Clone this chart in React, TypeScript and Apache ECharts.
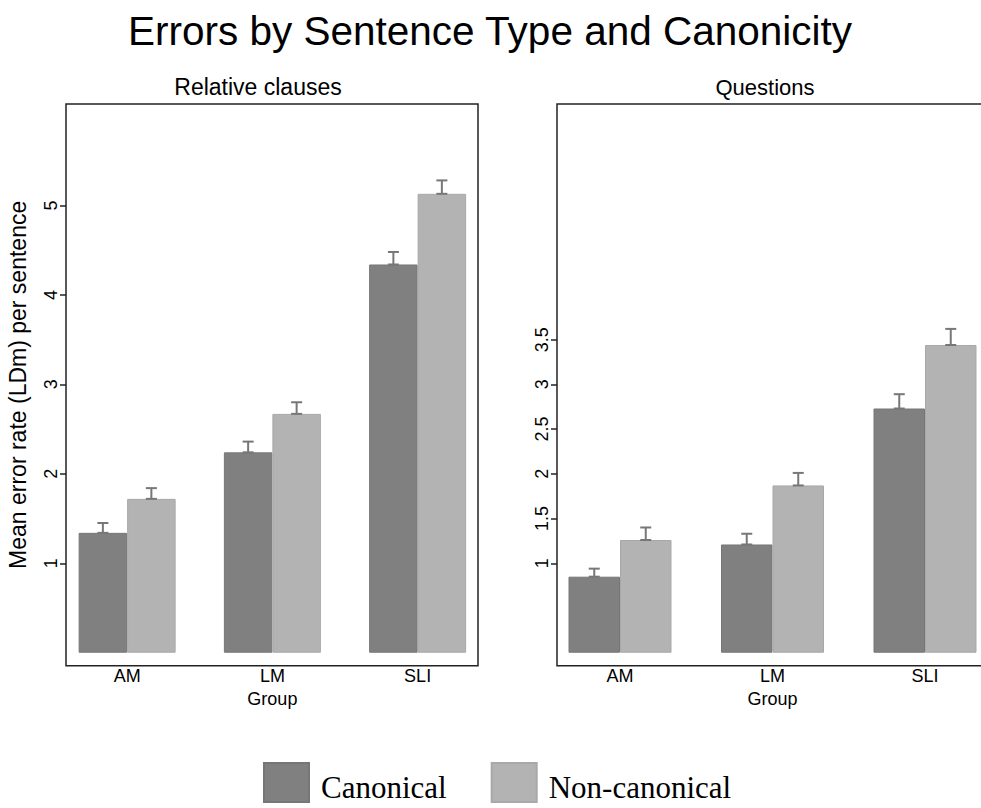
import React, { useEffect, useRef } from "react";
import * as echarts from "echarts";

const categories = ["AM", "LM", "SLI"];
const seriesNames = ["Canonical", "Non-canonical"];

// Relative clauses panel
const relCanonical = [1.34, 2.24, 4.34];
const relCanonicalUpper = [1.45, 2.36, 4.48];
const relNonCanonical = [1.72, 2.67, 5.13];
const relNonCanonicalUpper = [1.84, 2.8, 5.28];

// Questions panel
const qCanonical = [0.85, 1.21, 2.73];
const qCanonicalUpper = [0.94, 1.33, 2.89];
const qNonCanonical = [1.26, 1.87, 3.44];
const qNonCanonicalUpper = [1.4, 2.01, 3.62];

const relTicks = [1, 2, 3, 4, 5];
const qTicks = [1, 1.5, 2, 2.5, 3, 3.5];

const COLOR_CAN = "#808080";
const COLOR_NON = "#b3b3b3";
const FONT = "Liberation Sans, Arial, Helvetica, sans-serif";
const Y_MIN = -0.145;
const Y_MAX = 6.134;

function errorSeries(xIdx: number, yIdx: number, bw: number, can: number[], canU: number[], non: number[], nonU: number[]) {
  const data: number[][] = [];
  can.forEach((v, i) => data.push([i, v, canU[i], -1]));
  non.forEach((v, i) => data.push([i, v, nonU[i], 1]));
  return {
    type: "custom",
    xAxisIndex: xIdx,
    yAxisIndex: yIdx,
    silent: true,
    z: 5,
    encode: { x: 0, y: [1, 2] },
    data,
    renderItem: (params: any, api: any) => {
      const cat = api.value(0);
      const lo = api.value(1);
      const hi = api.value(2);
      const side = api.value(3);
      const p1 = api.coord([cat, lo]);
      const p2 = api.coord([cat, hi]);
      const x = p1[0] + (side * bw) / 2;
      const style = { stroke: "#777777", lineWidth: 2 };
      return {
        type: "group",
        children: [
          { type: "line", shape: { x1: x, y1: p1[1], x2: x, y2: p2[1] }, style },
          { type: "line", shape: { x1: x - 5.5, y1: p2[1], x2: x + 5.5, y2: p2[1] }, style },
          { type: "line", shape: { x1: x - 5.5, y1: p1[1], x2: x + 5.5, y2: p1[1] }, style },
        ],
      };
    },
  };
}

function barSeries(name: string, xIdx: number, yIdx: number, bw: number, data: number[], color: string, border: string) {
  return {
    type: "bar",
    name,
    xAxisIndex: xIdx,
    yAxisIndex: yIdx,
    barWidth: bw,
    barGap: "0%",
    data,
    itemStyle: { color, borderColor: border, borderWidth: 1 },
  };
}

export default function App() {
  const ref = useRef<HTMLDivElement>(null);
  useEffect(() => {
    document.body.style.margin = "0";
    document.body.style.overflow = "hidden";
    const chart = echarts.init(ref.current!, undefined, { renderer: "svg" });
    const top = 104;
    const bottom = 808 - 665.7;
    const LBW = 48.5;
    const RBW = 51.5;
    const frameY = (idx: number, ticks: number[], withName: boolean) => ({
      type: "value",
      gridIndex: idx,
      min: Y_MIN,
      max: Y_MAX,
      axisLine: { show: false },
      splitLine: { show: false },
      axisTick: { show: true, length: 6, customValues: ticks, lineStyle: { color: "#222", width: 1.5 } },
      axisLabel: { customValues: ticks, rotate: 90, fontSize: 18, color: "#000", margin: 6, fontFamily: FONT },
      name: withName ? "Mean error rate (LDm) per sentence" : "",
      nameLocation: "middle",
      nameGap: 37,
      nameTextStyle: { fontSize: 23, color: "#000", fontFamily: FONT },
    });
    const hiddenY = (idx: number) => ({ type: "value", gridIndex: idx, min: Y_MIN, max: Y_MAX, show: false });
    const barX = (idx: number) => ({
      type: "category",
      gridIndex: idx,
      data: categories,
      axisLine: { show: false },
      axisTick: { show: false },
      axisLabel: { fontSize: 18, color: "#000", margin: 1, fontFamily: FONT },
      name: "Group",
      nameLocation: "middle",
      nameGap: 15,
      nameTextStyle: { fontSize: 18, color: "#000", fontFamily: FONT },
    });
    chart.setOption({
      animation: false,
      textStyle: { fontFamily: FONT },
      title: {
        text: "Errors by Sentence Type and Canonicity",
        left: 485,
        textAlign: "center",
        top: 5,
        textStyle: { fontSize: 40.5, fontWeight: "normal", color: "#000", fontFamily: FONT },
      },
      legend: {
        data: seriesNames,
        left: 263,
        top: 762,
        padding: 0,
        icon: "rect",
        itemWidth: 45,
        itemHeight: 39,
        itemGap: 44,
        formatter: "{t|{name}}",
        textStyle: {
          fontFamily: "Liberation Serif, Times New Roman, serif",
          fontSize: 31,
          color: "#000",
          padding: [0, 0, 0, 7],
          rich: { t: { fontFamily: "Liberation Serif, Times New Roman, serif", fontSize: 31, color: "#000", padding: [9, 0, 0, 0] } },
        },
      },
      graphic: [
        { type: "text", x: 258, y: 87, style: { text: "Relative clauses", fill: "#000", font: "23px " + FONT, textAlign: "center", textVerticalAlign: "middle" } },
        { type: "text", x: 765, y: 87, style: { text: "Questions", fill: "#000", font: "22px " + FONT, textAlign: "center", textVerticalAlign: "middle" } },
      ],
      grid: [
        { left: 66, width: 412, top, bottom, show: true, borderColor: "#222", borderWidth: 1.5, backgroundColor: "transparent" },
        { left: 54.5, width: 435.75, top, bottom },
        { left: 557, width: 431, top, bottom, show: true, borderColor: "#222", borderWidth: 1.5, backgroundColor: "transparent" },
        { left: 543.75, width: 457.5, top, bottom },
      ],
      xAxis: [
        { type: "category", gridIndex: 0, data: categories, show: false },
        barX(1),
        { type: "category", gridIndex: 2, data: categories, show: false },
        barX(3),
      ],
      yAxis: [frameY(0, relTicks, true), hiddenY(1), frameY(2, qTicks, false), hiddenY(3)],
      series: [
        barSeries("Canonical", 1, 1, LBW, relCanonical, COLOR_CAN, "#767676"),
        barSeries("Non-canonical", 1, 1, LBW, relNonCanonical, COLOR_NON, "#a8a8a8"),
        errorSeries(1, 1, LBW, relCanonical, relCanonicalUpper, relNonCanonical, relNonCanonicalUpper),
        barSeries("Canonical", 3, 3, RBW, qCanonical, COLOR_CAN, "#767676"),
        barSeries("Non-canonical", 3, 3, RBW, qNonCanonical, COLOR_NON, "#a8a8a8"),
        errorSeries(3, 3, RBW, qCanonical, qCanonicalUpper, qNonCanonical, qNonCanonicalUpper),
      ],
    });
    return () => chart.dispose();
  }, []);
  return (
    <div style={{ width: 981, height: 808, overflow: "hidden", position: "relative" }}>
      <div ref={ref} style={{ width: 1020, height: 808 }} />
    </div>
  );
}
